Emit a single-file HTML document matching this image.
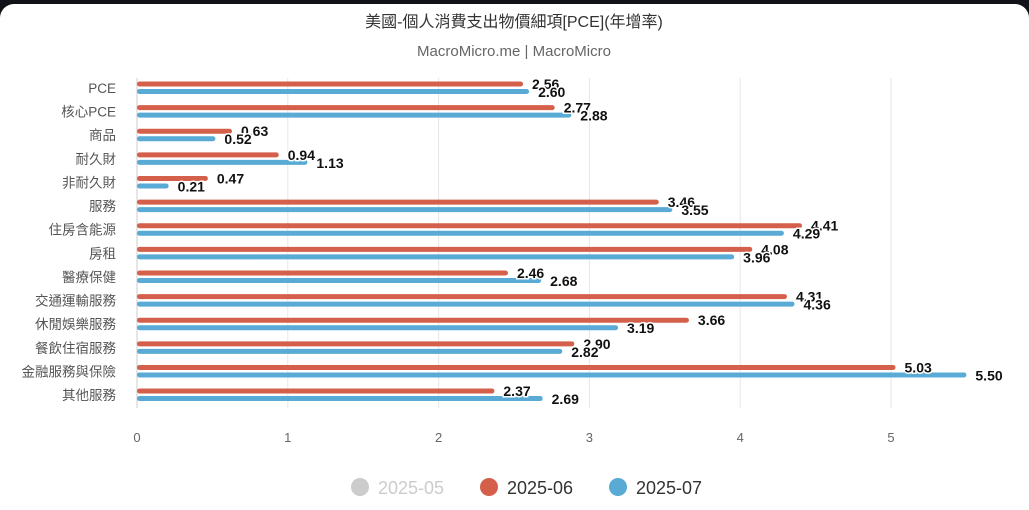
<!DOCTYPE html>
<html><head><meta charset="utf-8">
<style>
html,body{margin:0;padding:0;background:#111318;}
#card{position:absolute;left:0;top:4px;width:1029px;height:506px;background:#fff;border-radius:14px 14px 0 0;overflow:hidden;}
svg{position:absolute;left:0;top:0;}
text{font-family:"Liberation Sans","Noto Sans CJK TC",sans-serif;}
</style></head>
<body>
<div id="card"></div>
<svg id="chart" width="1029" height="510"></svg>
<script>
const categories=["PCE","核心PCE","商品","耐久財","非耐久財","服務","住房含能源","房租","醫療保健","交通運輸服務","休閒娛樂服務","餐飲住宿服務","金融服務與保險","其他服務"];
const seriesJun=[2.56,2.77,0.63,0.94,0.47,3.46,4.41,4.08,2.46,4.31,3.66,2.90,5.03,2.37];
const seriesJul=[2.60,2.88,0.52,1.13,0.21,3.55,4.29,3.96,2.68,4.36,3.19,2.82,5.50,2.69];
const xTicks=[0,1,2,3,4,5];
const legendLabels=["2025-05","2025-06","2025-07"];

const NS="http://www.w3.org/2000/svg";
const svg=document.getElementById('chart');
function mk(tag,attrs,txt){const e=document.createElementNS(NS,tag);for(const k in attrs)e.setAttribute(k,attrs[k]);if(txt!==undefined)e.textContent=txt;svg.appendChild(e);return e;}
const x0=137,pxPerUnit=150.8;
const xs=v=>x0+v*pxPerUnit;
const rowTop=88,rowStep=23.62;
const ys=i=>rowTop+i*rowStep;

let t=mk('text',{x:514,y:27,'text-anchor':'middle','font-size':16,fill:'#333'},'美國-個人消費支出物價細項[PCE](年增率)');

t=mk('text',{x:514,y:56,'text-anchor':'middle','font-size':15,fill:'#666'},'MacroMicro.me | MacroMicro');


xTicks.forEach(v=>{
  const g=mk('line',{x1:xs(v),x2:xs(v),y1:78,y2:408,stroke:v===0?'#ccc':'#e6e6e6','stroke-width':1});
  
  const l=mk('text',{x:xs(v),y:442,'text-anchor':'middle','font-size':13,fill:'#666'},String(v));
  
});

categories.forEach((c,i)=>{
  const l=mk('text',{x:116,y:ys(i)+5,'text-anchor':'end','font-size':13.5,fill:'#555'},c);
  
  const yc=ys(i);
  const r=mk('rect',{x:x0,y:yc-6.5,width:xs(seriesJun[i])-x0,height:5,rx:2.5,fill:'#d4604b'});
  
  const b=mk('rect',{x:x0,y:yc+1,width:xs(seriesJul[i])-x0,height:5,rx:2.5,fill:'#5aaad6'});
  
});
categories.forEach((c,i)=>{
  const yc=ys(i);
  const lr=mk('text',{x:xs(seriesJun[i])+9,y:yc+1,'font-size':14,'font-weight':'bold',fill:'#111',stroke:'#fff','stroke-width':3,'paint-order':'stroke'},seriesJun[i].toFixed(2));
  
  const lb=mk('text',{x:xs(seriesJul[i])+9,y:yc+9,'font-size':14,'font-weight':'bold',fill:'#111',stroke:'#fff','stroke-width':3,'paint-order':'stroke'},seriesJul[i].toFixed(2));
  
});

const legColors=['#ccc','#d4604b','#5aaad6'];
const legX=[360,489,618];
legendLabels.forEach((s,i)=>{
  const c=mk('circle',{cx:legX[i],cy:487,r:9,fill:legColors[i]});
  
  const l=mk('text',{x:legX[i]+18,y:494,'font-size':18,fill:i===0?'#ccc':'#333'},s);
  
});
</script>
</body></html>
